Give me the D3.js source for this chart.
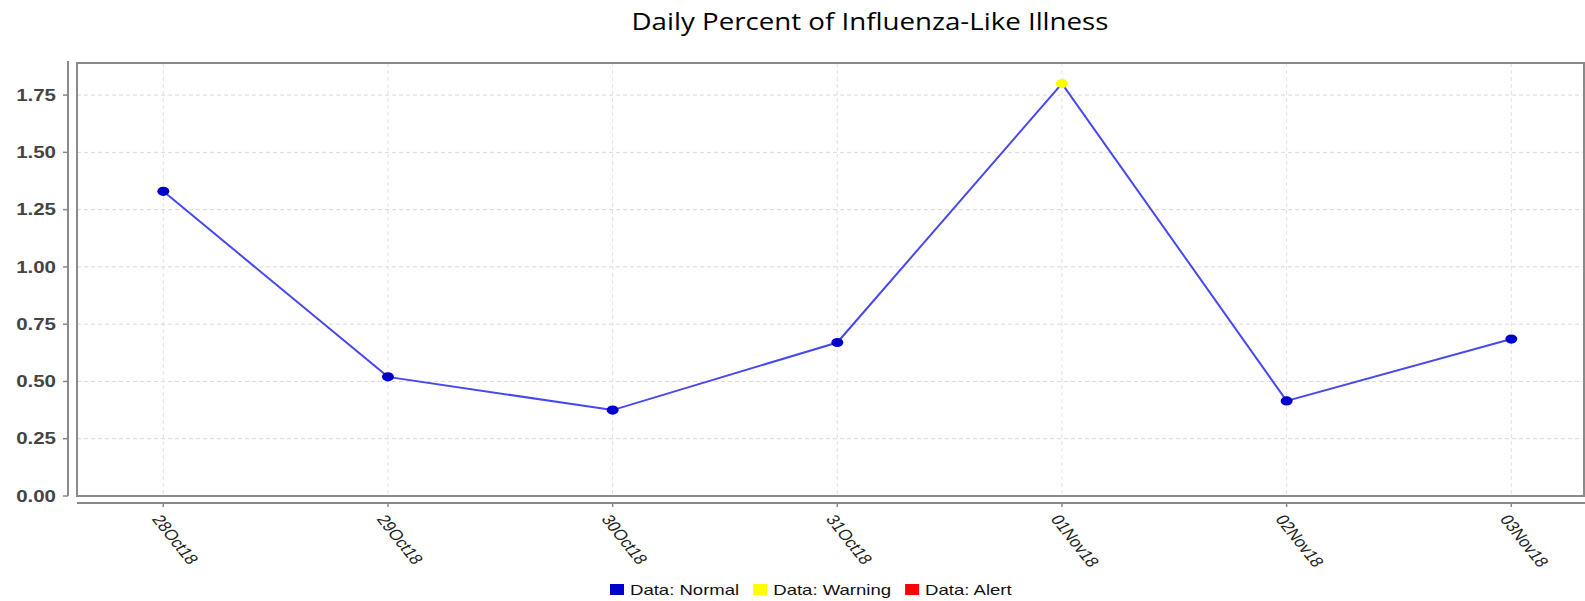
<!DOCTYPE html>
<html>
<head>
<meta charset="utf-8">
<script src="https://cdn.jsdelivr.net/npm/d3@7"></script>
<style>
  html, body { margin: 0; padding: 0; background: #fff; }
  svg { display: block; }
</style>
</head>
<body>
<svg id="chart" width="1585" height="601"></svg>
<script>
// ---- data ----
const categories = ["28Oct18", "29Oct18", "30Oct18", "31Oct18", "01Nov18", "02Nov18", "03Nov18"];
const values = [1.33, 0.52, 0.375, 0.67, 1.80, 0.415, 0.685];
const status = ["Normal", "Normal", "Normal", "Normal", "Warning", "Normal", "Normal"];
const yTicks = [0, 0.25, 0.5, 0.75, 1.0, 1.25, 1.5, 1.75];
const legendLabels = ["Data: Normal", "Data: Warning", "Data: Alert"];
const legendKeys = ["Normal", "Warning", "Alert"];
const title = "Daily Percent of Influenza-Like Illness";

const colors = { Normal: "#0000cc", Warning: "#ffff00", Alert: "#ff0000" };
const SX = 1.28; // horizontal stretch of the original rendering

const svg = d3.select("#chart");
const frame = { left: 77, right: 1584, top: 63, bottom: 496 };

const x = d3.scalePoint().domain(categories).range([163.3, 1511.3]);
const y = d3.scaleLinear().domain([0, 1.89]).range([frame.bottom, frame.top]);

// title
svg.append("text")
  .attr("x", 870).attr("y", 30)
  .attr("text-anchor", "middle")
  .attr("font-family", "'Open Sans', Lato, sans-serif")
  .attr("font-size", 23)
  .attr("fill", "#000")
  .attr("textLength", 477)
  .attr("lengthAdjust", "spacingAndGlyphs")
  .text(title);

// gridlines
const grid = svg.append("g");
grid.selectAll("line.h").data(yTicks.filter(d => d > 0)).join("line")
  .attr("x1", frame.left).attr("x2", frame.right)
  .attr("y1", d => y(d)).attr("y2", d => y(d))
  .attr("stroke", "#d8d8d8").attr("stroke-width", 1)
  .attr("stroke-dasharray", "4,3");
grid.selectAll("line.v").data(categories).join("line")
  .attr("x1", d => x(d)).attr("x2", d => x(d))
  .attr("y1", frame.top).attr("y2", frame.bottom)
  .attr("stroke", "#e2e2e2").attr("stroke-width", 1)
  .attr("stroke-dasharray", "4,3");

// frame
svg.append("rect")
  .attr("x", frame.left).attr("y", frame.top)
  .attr("width", frame.right - frame.left).attr("height", frame.bottom - frame.top)
  .attr("fill", "none").attr("stroke", "#8a8a8a").attr("stroke-width", 2);

// y axis
const yAxisX = 68;
const yAxis = svg.append("g");
yAxis.append("line")
  .attr("x1", yAxisX).attr("x2", yAxisX)
  .attr("y1", frame.top - 2).attr("y2", frame.bottom)
  .attr("stroke", "#8a8a8a").attr("stroke-width", 2);
yAxis.selectAll("line.t").data(yTicks).join("line")
  .attr("x1", yAxisX - 5).attr("x2", yAxisX)
  .attr("y1", d => y(d)).attr("y2", d => y(d))
  .attr("stroke", "#8a8a8a").attr("stroke-width", 1.5);
yAxis.selectAll("text").data(yTicks).join("text")
  .attr("transform", d => `translate(56,${y(d)}) scale(${SX},1)`)
  .attr("dy", "0.36em")
  .attr("text-anchor", "end")
  .attr("font-family", "'Liberation Sans', Arial, sans-serif")
  .attr("font-weight", "bold")
  .attr("font-size", 16)
  .attr("fill", "#444")
  .text(d3.format(".2f"));

// x axis
const xAxisY = 503;
const xAxis = svg.append("g");
xAxis.append("line")
  .attr("x1", frame.left).attr("x2", 1585)
  .attr("y1", xAxisY).attr("y2", xAxisY)
  .attr("stroke", "#8a8a8a").attr("stroke-width", 2);
xAxis.selectAll("line.t").data(categories).join("line")
  .attr("x1", d => x(d)).attr("x2", d => x(d))
  .attr("y1", xAxisY).attr("y2", xAxisY + 4)
  .attr("stroke", "#8a8a8a").attr("stroke-width", 1.5);
xAxis.selectAll("text").data(categories).join("text")
  .attr("transform", d => `translate(${x(d) - 12},${xAxisY + 16}) scale(${SX},1) rotate(58)`)
  .attr("text-anchor", "start")
  .attr("font-family", "'Liberation Sans', Arial, sans-serif")
  .attr("font-size", 14.5)
  .attr("fill", "#222")
  .text(d => d);

// line
const lineGen = d3.line().x((d, i) => x(categories[i])).y(d => y(d));
svg.append("path")
  .datum(values)
  .attr("d", lineGen)
  .attr("fill", "none")
  .attr("stroke", "#4848f0")
  .attr("stroke-width", 2);

// markers
svg.selectAll("ellipse.pt").data(values).join("ellipse")
  .attr("cx", (d, i) => x(categories[i]))
  .attr("cy", d => y(d))
  .attr("rx", 6).attr("ry", 4.6)
  .attr("fill", (d, i) => colors[status[i]]);

// legend
const legend = svg.append("g");
let lx = 610;
const ly = 595;
legendLabels.forEach((lab, i) => {
  legend.append("rect")
    .attr("x", lx).attr("y", ly - 11)
    .attr("width", 14).attr("height", 11)
    .attr("fill", colors[legendKeys[i]]);
  const t = legend.append("text")
    .attr("transform", `translate(${lx + 20},${ly}) scale(${SX},1)`)
    .attr("font-family", "'Liberation Sans', Arial, sans-serif")
    .attr("font-size", 14.5)
    .attr("fill", "#111")
    .text(lab);
  const w = t.node().getComputedTextLength() * SX;
  lx = lx + 20 + w + 14;
});
</script>
</body>
</html>
